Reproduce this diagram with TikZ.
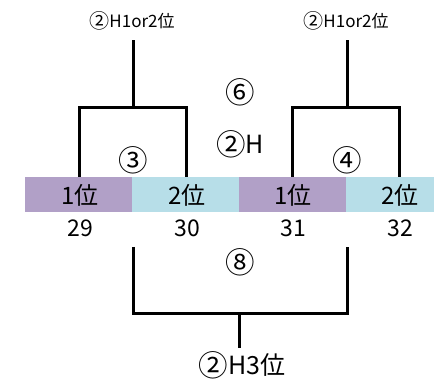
\documentclass[tikz,border=0pt]{standalone}
\usepackage{fontspec}
\setmainfont{Noto Sans CJK JP}
\definecolor{cpurple}{HTML}{B1A0C7}
\definecolor{cblue}{HTML}{B7DEE8}
\newcommand\cnum[1]{\raisebox{-0.07em}{\scalebox{1.18}{#1}}}
\begin{document}
\begin{tikzpicture}[x=1pt,y=-1pt,
  bline/.style={line width=3pt},
  celltxt/.style={font=\fontsize{24}{24}\selectfont,inner sep=0pt},
  numtxt/.style={font=\fontsize{23}{23}\selectfont,inner sep=0pt},
  toplbl/.style={font=\fontsize{17}{17}\selectfont,inner sep=0pt},
  midlbl/.style={font=\fontsize{25}{25}\selectfont,inner sep=0pt}]
\useasboundingbox (0,0) rectangle (434,379);
% cells
\fill[cpurple] (25,177) rectangle (132,212);
\fill[cblue] (132,177) rectangle (239,212);
\fill[cpurple] (239,177) rectangle (346,212);
\fill[cblue] (346,177) rectangle (434,212);
\node[celltxt] (c1) at (80,195) {1位};
\node[celltxt] (c2) at (187,195) {2位};
\node[celltxt] (c3) at (293,195) {1位};
\node[celltxt] (c4) at (400,195) {2位};
\node[numtxt] (n29) at (80,228) {29};
\node[numtxt] (n30) at (187,228) {30};
\node[numtxt] (n31) at (293,228) {31};
\node[numtxt] (n32) at (400,228) {32};
% coordinates
\coordinate (a1) at (79,177);
\coordinate (a2) at (186,177);
\coordinate (a3) at (292,177);
\coordinate (a4) at (399,177);
\coordinate (t1) at (133,40);
\coordinate (t2) at (347,40);
\coordinate (b1) at (133,247);
\coordinate (b2) at (347,247);
\coordinate (bs) at (239,348);
% top brackets
\draw[bline] (a1) |- (133,108) -| (a2);
\draw[bline] (133,108) -- (t1);
\draw[bline] (a3) |- (347,108) -| (a4);
\draw[bline] (347,108) -- (t2);
% bottom bracket
\draw[bline] (b1) |- (239,314) -| (b2);
\draw[bline] (239,314) -- (bs);
% labels
\node[toplbl] (l1) at (132,21) {\cnum{②}H1or2位};
\node[toplbl] (l2) at (346,21) {\cnum{②}H1or2位};
\node[midlbl] (m6) at (240,92) {\cnum{⑥}};
\node[midlbl] (m2h) at (240,144) {\cnum{②}H};
\node[midlbl] (m3) at (133,160) {\cnum{③}};
\node[midlbl] (m4) at (347,160) {\cnum{④}};
\node[midlbl] (m8) at (240,262) {\cnum{⑧}};
\node[midlbl,anchor=base,text depth=1pt] (m3rd) at (242,375) {\cnum{②}H3位};
\end{tikzpicture}
\end{document}
